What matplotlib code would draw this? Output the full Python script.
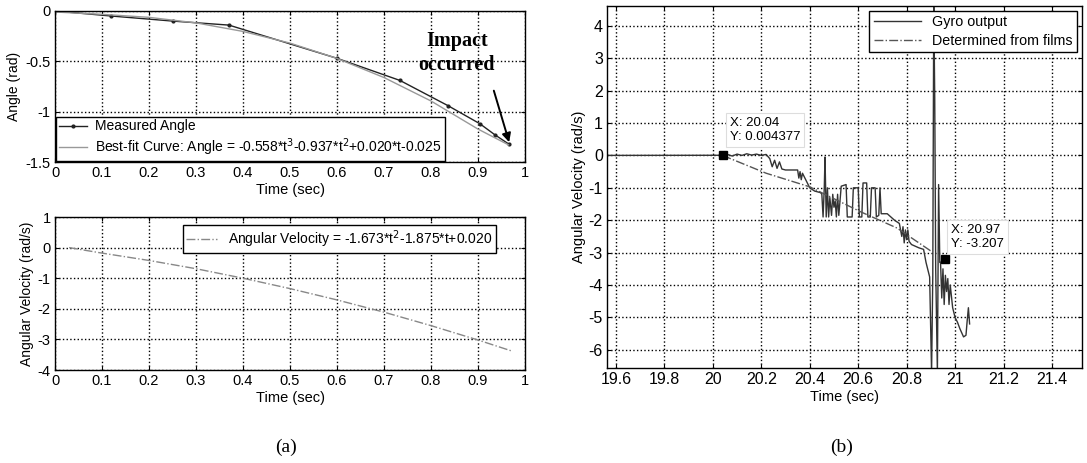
import numpy as np
import matplotlib.pyplot as plt

plt.rcParams['font.family'] = ['Liberation Sans', 'DejaVu Sans']

# (a) top: measured angle and best-fit curve
t_meas = [0.0, 0.12, 0.25, 0.37, 0.60, 0.734, 0.836, 0.904, 0.936, 0.965]
angle_meas = [0.0, -0.05, -0.10, -0.14, -0.47, -0.69, -0.94, -1.12, -1.23, -1.32]
t_fit = [0.0, 0.1, 0.2, 0.3, 0.4, 0.5, 0.6, 0.7, 0.8, 0.9, 0.965]
angle_fit = [-0.01, -0.033, -0.063, -0.118, -0.203, -0.319, -0.471, -0.661, -0.894, -1.173, -1.33]

# (a) bottom: angular velocity fit
t_vel = [0.03, 0.1, 0.2, 0.3, 0.4, 0.5, 0.6, 0.7, 0.8, 0.9, 0.97]
vel_fit = [0.0, -0.18, -0.42, -0.69, -1.0, -1.34, -1.71, -2.11, -2.55, -3.02, -3.37]

# (b): gyro output and film-derived velocity
t_gyro = [19.565, 20.04, 20.06, 20.08, 20.10, 20.12, 20.14, 20.16, 20.18, 20.20, 20.22,
          20.235, 20.245, 20.255, 20.265, 20.275, 20.285, 20.30, 20.35,
          20.355, 20.36, 20.365, 20.37, 20.40, 20.42, 20.445,
          20.45, 20.455, 20.46, 20.463, 20.468, 20.473, 20.478, 20.483, 20.49, 20.495,
          20.50, 20.505, 20.51, 20.515, 20.52,
          20.53, 20.55, 20.555, 20.575, 20.58, 20.60, 20.605, 20.615, 20.62, 20.635,
          20.64, 20.65, 20.655, 20.67, 20.675, 20.685, 20.69, 20.695, 20.72, 20.75, 20.77,
          20.78, 20.785, 20.79, 20.795, 20.80, 20.805, 20.81, 20.82, 20.85, 20.87,
          20.88, 20.89, 20.895,
          20.903, 20.908, 20.912, 20.916, 20.92, 20.927, 20.932, 20.937,
          20.94, 20.945, 20.95, 20.955, 20.96, 20.965, 20.97, 20.975, 20.98, 20.99,
          21.0, 21.01, 21.02, 21.035, 21.045, 21.05, 21.055, 21.06]
w_gyro = [0.0, 0.004, 0.03, -0.02, 0.04, 0.0, 0.05, 0.01, 0.04, 0.0, 0.03,
          -0.1, -0.35, -0.15, -0.4, -0.2, -0.42, -0.45, -0.45,
          -0.7, -0.5, -0.75, -0.55, -1.0, -1.1, -1.15,
          -1.2, -1.9, -1.0, -0.05, -1.9, -1.0, -1.9, -1.3, -1.85, -1.2,
          -1.6, -1.4, -1.9, -1.2, -1.85,
          -0.95, -0.9, -1.9, -1.9, -1.0, -1.0, -1.9, -1.9, -0.85, -0.85,
          -1.9, -1.9, -1.0, -1.0, -1.9, -1.85, -1.0, -1.8, -1.8, -2.0, -2.1,
          -2.5, -2.2, -2.7, -2.3, -2.6, -2.3, -2.65, -2.75, -2.85, -2.9,
          -3.3, -3.6, -3.75,
          -6.7, -3.7, 4.7, 1.8, -3.5, -6.7, -0.9, -3.3,
          -3.3, -4.4, -3.5, -4.6, -3.7, -4.2, -3.8, -4.6, -4.0, -4.7,
          -5.0, -5.15, -5.35, -5.6, -5.55, -5.1, -4.7, -5.2]
t_film = [20.04, 20.22, 20.40, 20.61, 20.76, 20.90]
w_film = [0.0, -0.55, -0.97, -1.74, -2.24, -2.95]

tip_x = [20.04, 20.958]
tip_y = [0.004377, -3.207]

xt_a = [0, 0.1, 0.2, 0.3, 0.4, 0.5, 0.6, 0.7, 0.8, 0.9, 1]
xt_a_lab = ['0', '0.1', '0.2', '0.3', '0.4', '0.5', '0.6', '0.7', '0.8', '0.9', '1']
yt_top = [0, -0.5, -1, -1.5]
yt_top_lab = ['0', '-0.5', '-1', '-1.5']
yt_bot = [1, 0, -1, -2, -3, -4]
yt_bot_lab = ['1', '0', '-1', '-2', '-3', '-4']
xt_b = [19.6, 19.8, 20.0, 20.2, 20.4, 20.6, 20.8, 21.0, 21.2, 21.4]
xt_b_lab = ['19.6', '19.8', '20', '20.2', '20.4', '20.6', '20.8', '21', '21.2', '21.4']
yt_b = [4, 3, 2, 1, 0, -1, -2, -3, -4, -5, -6]
yt_b_lab = ['4', '3', '2', '1', '0', '-1', '-2', '-3', '-4', '-5', '-6']


def style(ax, size):
    ax.grid(True, linestyle=':', color='black', linewidth=1.0)
    ax.tick_params(direction='in', top=True, right=True, labelsize=size, length=3, pad=3)
    for s in ax.spines.values():
        s.set_linewidth(1.0)


W, H = 1087, 463
fig = plt.figure(figsize=(W / 100, H / 100), dpi=100)

# top-left
ax1 = fig.add_axes([55 / W, 1 - 162 / H, 470 / W, 151 / H])
ax1.plot(t_meas, angle_meas, color='#222222', linewidth=1.0, marker='.', markersize=4,
         label='Measured Angle')
ax1.plot(t_fit, angle_fit, color='#999999', linewidth=1.0,
         label='Best-fit Curve: Angle = -0.558*t$^3$-0.937*t$^2$+0.020*t-0.025')
ax1.set_xlim(0, 1)
ax1.set_ylim(-1.5, 0)
ax1.set_xticks(xt_a, xt_a_lab)
ax1.set_yticks(yt_top, yt_top_lab)
ax1.set_xlabel('Time (sec)', fontsize=10.5, labelpad=2)
ax1.set_ylabel('Angle (rad)', fontsize=10, labelpad=3)
style(ax1, 10.5)
ax1.legend(loc='lower left', fontsize=10, frameon=True, fancybox=False, edgecolor='black',
           borderaxespad=0.1, handlelength=2.0, borderpad=0.2, labelspacing=0.2,
           handletextpad=0.6, framealpha=1)
ax1.text(0.855, -0.416, 'Impact\noccurred', family=['Liberation Serif', 'DejaVu Serif'],
         fontsize=14.5, fontweight='bold', ha='center', va='center', linespacing=1.25)
ax1.annotate('', xy=(0.968, -1.33), xytext=(0.932, -0.765),
             arrowprops=dict(arrowstyle='-|>', color='black', lw=1.4, mutation_scale=13))

# bottom-left
ax2 = fig.add_axes([55 / W, 1 - 370 / H, 470 / W, 153 / H])
ax2.plot(t_vel, vel_fit, color='#888888', linewidth=1.0, linestyle='-.',
         label='Angular Velocity = -1.673*t$^2$-1.875*t+0.020')
ax2.set_xlim(0, 1)
ax2.set_ylim(-4, 1)
ax2.set_xticks(xt_a, xt_a_lab)
ax2.set_yticks(yt_bot, yt_bot_lab)
ax2.set_xlabel('Time (sec)', fontsize=10.5, labelpad=2)
ax2.set_ylabel('Angular Velocity (rad/s)', fontsize=10, labelpad=3)
style(ax2, 10.5)
ax2.legend(loc='upper right', fontsize=10, frameon=True, fancybox=False, edgecolor='black',
           bbox_to_anchor=(0.938, 0.95), borderaxespad=0, handlelength=2.2, borderpad=0.25,
           framealpha=1)

# right
ax3 = fig.add_axes([607 / W, 1 - 368 / H, 475 / W, 362 / H])
ax3.plot(t_gyro, w_gyro, color='#333333', linewidth=1.0, label='Gyro output')
ax3.plot(t_film, w_film, color='#555555', linewidth=1.0, linestyle='-.',
         label='Determined from films')
ax3.plot(tip_x, tip_y, linestyle='none', marker='s', color='black', markersize=6)
ax3.set_xlim(19.563, 21.524)
ax3.set_ylim(-6.56, 4.61)
ax3.set_xticks(xt_b, xt_b_lab)
ax3.set_yticks(yt_b, yt_b_lab)
ax3.set_xlabel('Time (sec)', fontsize=10.5, labelpad=2)
ax3.set_ylabel('Angular Velocity (rad/s)', fontsize=10.5, labelpad=2)
style(ax3, 11.5)
ax3.legend(loc='upper right', fontsize=10.3, frameon=True, fancybox=False, edgecolor='black',
           borderaxespad=0.35, handlelength=3.3, borderpad=0.3, labelspacing=0.3, framealpha=1)
box = dict(boxstyle='square,pad=0.3', facecolor='white', edgecolor='#dddddd', linewidth=0.8)
ax3.text(20.07, 0.78, 'X: 20.04\nY: 0.004377', fontsize=9.5, va='center', ha='left', bbox=box,
         linespacing=1.25)
ax3.text(20.985, -2.52, 'X: 20.97\nY: -3.207', fontsize=9.5, va='center', ha='left', bbox=box,
         linespacing=1.25)

serif = ['Liberation Serif', 'DejaVu Serif']
fig.text(286 / W, 1 - 447 / H, '(a)', family=serif, fontsize=14, ha='center', va='center')
fig.text(842 / W, 1 - 447 / H, '(b)', family=serif, fontsize=14, ha='center', va='center')

fig.savefig('out.png', dpi=100)
